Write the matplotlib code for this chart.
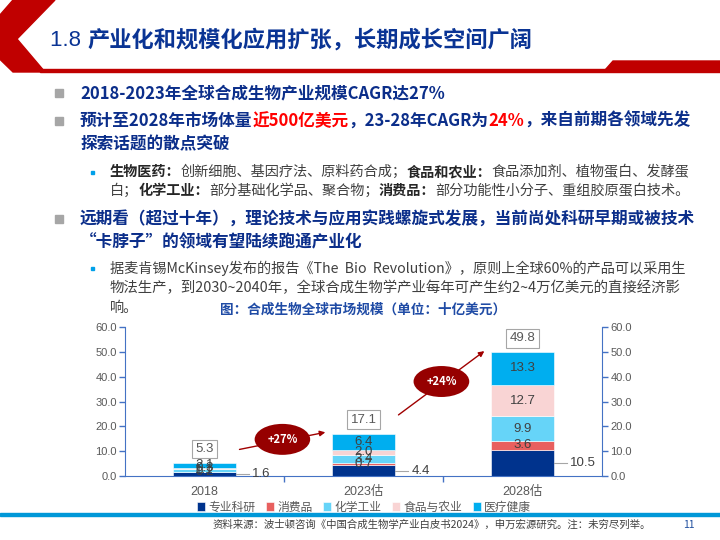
import numpy as np
import matplotlib
matplotlib.use('Agg')
import matplotlib.pyplot as plt
from matplotlib.patches import Polygon, Rectangle
from matplotlib.transforms import Affine2D

# chart data (billion USD)
years = ['2018', '2023估', '2028估']
series_names = ['专业科研', '消费品', '化学工业', '食品与农业', '医疗健康']
research = [1.6, 4.4, 10.5]
consumer = [0.2, 0.7, 3.6]
chemical = [1.1, 3.4, 9.9]
food = [0.3, 2.0, 12.7]
health = [2.1, 6.4, 13.3]
totals = [5.3, 17.1, 49.8]
growth = ['+27%', '+24%']

colors = ['#00338D', '#E8605F', '#66D4F8', '#F9D4D4', '#00AEEF']

CJK = ['Noto Sans CJK SC', 'DejaVu Sans']
plt.rcParams['font.family'] = ['Liberation Sans', 'Noto Sans CJK SC', 'DejaVu Sans']

W, H = 720, 540
fig = plt.figure(figsize=(7.2, 5.4), dpi=100)
renderer = fig.canvas.get_renderer()
pix = Affine2D().scale(1 / W, -1 / H).translate(0, 1) + fig.transFigure

BLUE = '#0B2E8A'
RED = '#FF0000'
GRAY = '#404040'
DARK = '#262626'


def put(x, y, s, size, color, bold=False, family=CJK, ha='left'):
    return fig.text(x / W, 1 - y / H, s, fontsize=size, color=color,
                    fontweight='bold' if bold else 'normal', family=family,
                    va='center', ha=ha)


def runs(x, y, parts, size):
    for s, color, bold in parts:
        t = put(x, y, s, size, color, bold)
        x += t.get_window_extent(renderer).width


# header
fig.patches.append(Polygon([(55, 0), (13, 0), (-21, 39), (13, 72), (45, 72), (17, 39)],
                           closed=True, color='#C00000', transform=pix))
fig.patches.append(Rectangle((40, 68.5), 680, 3.8, color='#C00000', transform=pix))
fig.patches.append(Polygon([(603, 72.3), (613, 61), (720, 61), (720, 72.3)],
                           closed=True, color='#C00000', transform=pix))
t = put(50, 40, '1.8 ', 16, '#0A3494', family=['Liberation Sans'])
put(50 + t.get_window_extent(renderer).width, 40, '产业化和规模化应用扩张，长期成长空间广阔', 16, '#0A3494', True)


# bullets
def square(y):
    fig.patches.append(Rectangle((55, y - 4), 8, 8, color='#A6A6A6', transform=pix))


def dot(y):
    fig.patches.append(Rectangle((91, y - 1.5), 3, 3, color='#00A0E9', transform=pix))


MS = 12
SS = 10.2
square(93)
runs(80, 93, [('2018-2023年全球合成生物产业规模CAGR达27%', BLUE, True)], MS)
square(121)
runs(80, 121, [('预计至2028年市场体量', BLUE, True), ('近500亿美元', RED, True),
               ('，23-28年CAGR为', BLUE, True), ('24%', RED, True),
               ('，来自前期各领域先发', BLUE, True)], MS)
runs(80, 144, [('探索话题的散点突破', BLUE, True)], MS)
dot(172)
runs(110, 172, [('生物医药：', DARK, True), ('创新细胞、基因疗法、原料药合成；', GRAY, False),
                ('食品和农业：', DARK, True), ('食品添加剂、植物蛋白、发酵蛋', GRAY, False)], SS)
runs(110, 191, [('白；', GRAY, False), ('化学工业：', DARK, True), ('部分基础化学品、聚合物；', GRAY, False),
                ('消费品：', DARK, True), ('部分功能性小分子、重组胶原蛋白技术。', GRAY, False)], SS)
square(219)
runs(80, 219, [('远期看（超过十年），理论技术与应用实践螺旋式发展，当前尚处科研早期或被技术', BLUE, True)], MS)
runs(80, 242, [('“卡脖子”的领域有望陆续跑通产业化', BLUE, True)], MS)
dot(268)
runs(110, 268, [('据麦肯锡McKinsey发布的报告《The  Bio  Revolution》，原则上全球60%的产品可以采用生', GRAY, False)], SS)
runs(110, 288, [('物法生产，到2030~2040年，全球合成生物学产业每年可产生约2~4万亿美元的直接经济影', GRAY, False)], 10.4)
runs(110, 308, [('响。', GRAY, False)], SS)

put(363.5, 310, '图：合成生物全球市场规模（单位：十亿美元）', 9.8, '#1F4BA5', True, ha='center')

# chart
ax = fig.add_axes([125 / W, 64 / H, 477 / W, 149 / H])
x = np.arange(len(years))
bw = 0.4
bottom = np.zeros(len(years))
handles = []
for vals, name, c in zip([research, consumer, chemical, food, health], series_names, colors):
    vals = np.array(vals)
    b = ax.bar(x, vals, bw, bottom=bottom, color=c, edgecolor='white', linewidth=0.4, label=name)
    handles.append(b)
    if name != '专业科研':
        for xi, bi, v in zip(x, bottom, vals):
            ax.text(xi, bi + v / 2, f'{v:.1f}', ha='center', va='center', fontsize=9.5, color=GRAY)
    else:
        for xi, v in zip(x, vals):
            ax.plot([xi + bw / 2, xi + bw / 2 + 0.08], [v / 2, v / 2], color='#A6A6A6', lw=0.8)
            ax.text(xi + bw / 2 + 0.1, v / 2, f'{v:.1f}', ha='left', va='center', fontsize=9.5, color=GRAY)
    bottom += vals

for xi, tot in zip(x, totals):
    ax.annotate(f'{tot:.1f}', (xi, tot), xytext=(0, 10), textcoords='offset points',
                ha='center', va='center', fontsize=9.5, color='#595959',
                bbox=dict(boxstyle='square,pad=0.25', fc='white', ec='#A6A6A6', lw=0.8))

# growth arrows between bars
tail_lift = [5.4, 7.5]
for i, g in enumerate(growth):
    start = (x[i] + bw / 2 + 0.02, totals[i] + tail_lift[i])
    end = (x[i + 1] - bw / 2 - 0.04, totals[i + 1] + 0.5)
    ax.annotate('', xy=end, xytext=start,
                arrowprops=dict(arrowstyle='-|>', color='#A00000', lw=1, mutation_scale=8,
                                shrinkA=0, shrinkB=0), annotation_clip=False)
    mx, my = (start[0] + end[0]) / 2, (start[1] + end[1]) / 2 + 0.6
    ax.text(mx, my, g, ha='center', va='center', fontsize=8, color='white', fontweight='bold',
            family=CJK, zorder=5,
            bbox=dict(boxstyle='ellipse,pad=0.4', fc='#960000', ec='none'))

ax.set_xlim(-0.5, 2.5)
ax.set_ylim(0, 60)
ax.set_yticks(np.arange(0, 61, 10))
ax.set_yticklabels([f'{v:.1f}' for v in np.arange(0, 61, 10)])
ax.set_xticks(x, years)
ax.set_xticks([0.5, 1.5], minor=True)
ax.tick_params(axis='y', colors='#4472C4', labelcolor='#595959', labelsize=8, length=4, width=1, pad=2)
ax.tick_params(axis='x', which='major', length=0, labelsize=9, labelcolor='#595959', pad=7)
ax.tick_params(axis='x', which='minor', length=4, width=1, color='#4472C4')

ax2 = ax.twinx()
ax2.set_ylim(0, 60)
ax2.set_yticks(np.arange(0, 61, 10))
ax2.set_yticklabels([f'{v:.1f}' for v in np.arange(0, 61, 10)])
ax2.tick_params(axis='y', colors='#4472C4', labelcolor='#595959', labelsize=8, length=4, width=1, pad=2)

for a in (ax, ax2):
    a.spines['top'].set_visible(False)
    for s in a.spines.values():
        s.set_color('#4472C4')
ax.spines['right'].set_visible(False)
ax2.spines['left'].set_visible(False)
ax2.spines['bottom'].set_visible(False)

ax.legend(handles=handles, loc='center', bbox_to_anchor=(364 / W, 1 - 507 / H),
          bbox_transform=fig.transFigure, ncol=5, frameon=False,
          prop={'family': CJK, 'size': 8.5}, labelcolor='#595959',
          handlelength=0.7, handleheight=0.7, handletextpad=0.25, columnspacing=0.9,
          borderpad=0)

# footer
fig.patches.append(Rectangle((0, 513), 720, 2.5, color='#0098D8', transform=pix))
put(651, 525, '资料来源：波士顿咨询《中国合成生物学产业白皮书2024》，申万宏源研究。注：未穷尽列举。',
    7.5, '#404040', ha='right')
put(689, 525, '11', 7.5, '#1F4E9E', ha='center')

fig.savefig('out.png', dpi=100)
